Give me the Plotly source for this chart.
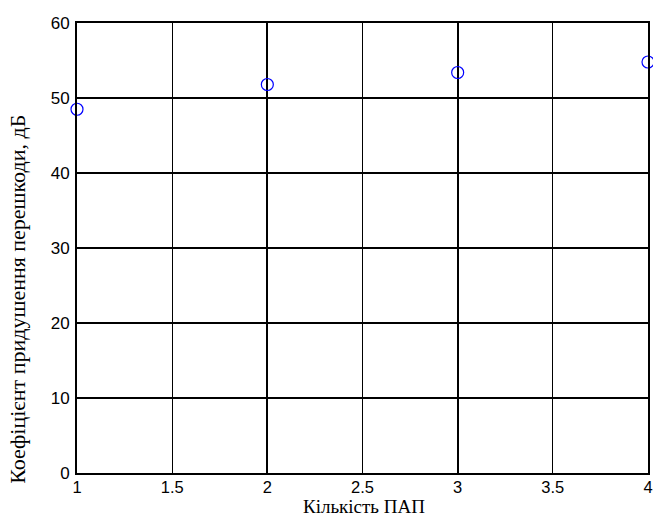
import plotly.graph_objects as go

x_vals = [1, 2, 3, 4]
y_vals = [48.5, 51.8, 53.4, 54.8]
x_ticks = [1, 1.5, 2, 2.5, 3, 3.5, 4]
x_tick_text = ["1", "1.5", "2", "2.5", "3", "3.5", "4"]
y_ticks = [0, 10, 20, 30, 40, 50, 60]
x_title = "Кількість ПАП"
y_title = "Коефіцієнт придушення перешкоди, дБ"

fig = go.Figure()
fig.add_trace(go.Scatter(
    x=x_vals, y=y_vals, mode="markers",
    marker=dict(symbol="circle-open", size=12, color="#0000ff", line=dict(width=1.2)),
    cliponaxis=False, showlegend=False,
))
# invisible trace on overlay axis for thicker integer gridlines
fig.add_trace(go.Scatter(x=x_vals, y=y_vals, xaxis="x2", mode="markers",
                         marker=dict(opacity=0), hoverinfo="skip", showlegend=False))

fig.update_layout(
    width=653, height=518,
    margin=dict(l=77, r=5, t=23, b=45, autoexpand=False),
    plot_bgcolor="white", paper_bgcolor="white",
    xaxis=dict(
        range=[1, 4], tickvals=x_ticks, ticktext=x_tick_text, automargin=False,
        showgrid=True, gridcolor="black", gridwidth=1.3,
        showline=True, linecolor="black", linewidth=2, mirror=True,
        ticks="", zeroline=False, ticklabelstandoff=-2,
        tickfont=dict(family="Liberation Sans, Arial", size=16.5, color="black"),
    ),
    xaxis2=dict(
        range=[1, 4], overlaying="x", dtick=1, tick0=1, automargin=False,
        showgrid=True, gridcolor="black", gridwidth=2,
        showticklabels=False, ticks="", zeroline=False, showline=False,
    ),
    yaxis=dict(
        range=[0, 60], tickvals=y_ticks, automargin=False,
        showgrid=True, gridcolor="black", gridwidth=2,
        showline=True, linecolor="black", linewidth=2, mirror=True,
        ticks="", zeroline=False, ticklabelstandoff=2,
        tickfont=dict(family="Liberation Sans, Arial", size=17, color="black"),
    ),
    annotations=[
        dict(
            text=y_title, textangle=-90, showarrow=False,
            xref="paper", yref="paper", x=-0.1033, y=0.385,
            xanchor="center", yanchor="middle",
            font=dict(family="Liberation Serif, Times New Roman", size=22, color="black"),
        ),
        dict(
            text=x_title, showarrow=False,
            xref="paper", yref="paper", x=0.503, y=-0.1,
            xanchor="center", yanchor="bottom", borderpad=0,
            font=dict(family="Liberation Serif, Times New Roman", size=19, color="black"),
        ),
    ],
)

fig.write_html("out.html", config={"displayModeBar": False},
               post_script="document.body.style.margin='0';document.body.style.overflow='hidden';")
